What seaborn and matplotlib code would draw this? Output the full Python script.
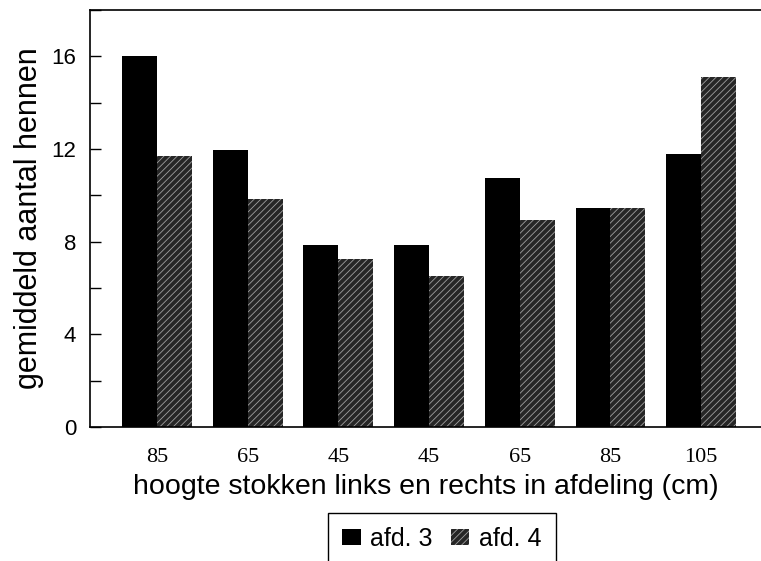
import matplotlib.pyplot as plt
from matplotlib.ticker import MultipleLocator
import seaborn as sns
import pandas as pd

# data
groups = ["g1", "g2", "g3", "g4", "g5", "g6", "g7"]
tick_labels = ["85", "65", "45", "45", "65", "85", "105"]
series = ["afd. 3", "afd. 4"]
afd3 = [16.0, 11.95, 7.85, 7.85, 10.75, 9.45, 11.8]
afd4 = [11.7, 9.85, 7.25, 6.5, 8.95, 9.45, 15.1]

df = pd.DataFrame({
    "groep": groups * 2,
    "afdeling": [series[0]] * len(afd3) + [series[1]] * len(afd4),
    "aantal": afd3 + afd4,
})

sns.set_style("ticks")
plt.rcParams['font.family'] = ['Liberation Sans', 'DejaVu Sans']
plt.rcParams['hatch.linewidth'] = 0.6
for key in ["text.color", "axes.labelcolor", "xtick.color", "ytick.color"]:
    plt.rcParams[key] = "black"

fig = plt.figure(figsize=(7.61, 5.61), dpi=100)
ax = fig.add_axes([90 / 761, 1 - 427 / 561, 1 - 90 / 761, (427 - 10) / 561])

sns.barplot(data=df, x="groep", y="aantal", hue="afdeling", order=groups,
            hue_order=series, palette=["black", "#262626"], saturation=1,
            width=0.77, gap=0, legend=False, ax=ax)

for bar in ax.containers[0]:
    bar.set_linewidth(0)
for bar in ax.containers[1]:
    bar.set_hatch("/////")
    bar.set_edgecolor("#a0a0a0")
    bar.set_linewidth(0)

ax.set_xlim(-0.739, 6.66)
ax.set_ylim(0, 18)
ax.set_yticks([0, 4, 8, 12, 16])
ax.yaxis.set_minor_locator(MultipleLocator(2))
ax.tick_params(axis="y", which="both", direction="in", length=8, width=1,
               pad=10, labelsize=16, color="black")
ax.tick_params(axis="x", length=0, pad=15)
ax.set_xticks(range(len(groups)))
ax.set_xticklabels(tick_labels, family=["Liberation Serif", "DejaVu Serif"],
                   fontsize=16)

ax.set_xlabel("hoogte stokken links en rechts in afdeling (cm)", fontsize=20.5,
              labelpad=5)
ax.set_ylabel("gemiddeld aantal hennen", fontsize=22, labelpad=5)

for side in ["left", "bottom", "top"]:
    ax.spines[side].set_linewidth(1.2)
    ax.spines[side].set_color("black")
ax.spines["right"].set_visible(False)

leg = ax.legend(handles=[ax.containers[0], ax.containers[1]], labels=series,
                loc="upper left", bbox_to_anchor=(328 / 761, 1 - 513 / 561),
                bbox_transform=fig.transFigure, ncol=2, fontsize=18,
                frameon=True, fancybox=False, framealpha=1, edgecolor="black",
                handlelength=0.75, handleheight=0.6, handletextpad=0.4,
                columnspacing=0.7, borderpad=0.55, borderaxespad=0)
leg.get_frame().set_linewidth(1)

fig.savefig("out.png", dpi=100)
